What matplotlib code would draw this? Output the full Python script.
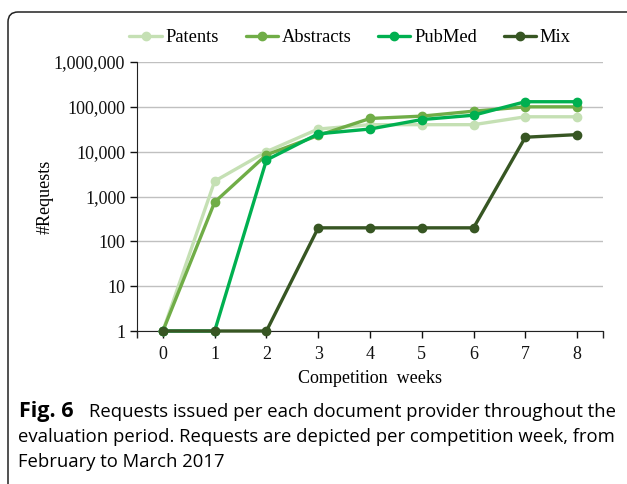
import matplotlib
matplotlib.use("Agg")
import matplotlib.pyplot as plt
from matplotlib.patches import FancyBboxPatch
from matplotlib.ticker import FixedLocator, FuncFormatter, NullLocator

weeks = [0, 1, 2, 3, 4, 5, 6, 7, 8]
patents = [1, 2200, 10000, 32000, 40000, 40000, 40000, 60000, 60000]
abstracts = [1, 750, 8500, 23000, 55000, 62000, 80000, 100000, 100000]
pubmed = [1, 1, 6500, 25000, 32000, 52000, 65000, 130000, 130000]
mix = [1, 1, 1, 200, 200, 200, 200, 21000, 24000]
series_names = ["Patents", "Abstracts", "PubMed", "Mix"]
yticks = [1, 10, 100, 1000, 10000, 100000, 1000000]

colors = ["#c5e0b4", "#70ad47", "#00b050", "#375623"]

W, H = 627, 484
fig = plt.figure(figsize=(W / 100, H / 100), dpi=100)

# border box (right and bottom edges fall outside the image, as in the reference)
box = FancyBboxPatch((0.08, -0.3), 7.0, (H - 12) / 100 + 0.3,
                     boxstyle="round,pad=0,rounding_size=0.1",
                     transform=fig.dpi_scale_trans, fill=False, edgecolor="#222222",
                     linewidth=1.1, clip_on=False)
fig.patches.append(box)

ax = fig.add_axes([137 / W, 1 - 331 / H, (603 - 137) / W, (331 - 62) / H])
ax.set_yscale("log")
ax.set_ylim(1, 1000000)
ax.set_xlim(-0.5, 8.5)

serif = "Liberation Serif"
for vals, name, c in zip([patents, abstracts, pubmed, mix], series_names, colors):
    ax.plot(weeks, vals, color=c, lw=2.4, marker="o", ms=6, label=name,
            solid_capstyle="round", zorder=3, clip_on=False)

ax.yaxis.set_major_locator(FixedLocator(yticks))
ax.yaxis.set_minor_locator(NullLocator())
ax.yaxis.set_major_formatter(FuncFormatter(lambda v, p: f"{int(round(v)):,}"))
ax.grid(axis="y", color="#c0c0c0", lw=1.0, zorder=0)
ax.set_axisbelow(True)

ax.xaxis.set_major_locator(FixedLocator(weeks))
ax.xaxis.set_minor_locator(FixedLocator([-0.5, 8.5]))
ax.tick_params(axis="x", which="both", direction="out", length=5, width=1, color="#222222")
ax.tick_params(axis="y", direction="out", length=5, width=1, color="#222222")
ax.tick_params(axis="both", labelsize=13, colors="#111111")
ax.tick_params(axis="x", pad=6)
for lbl in ax.get_xticklabels() + ax.get_yticklabels():
    lbl.set_fontfamily(serif)

for s in ["top", "right"]:
    ax.spines[s].set_visible(False)
ax.spines["left"].set_color("#222222")
ax.spines["bottom"].set_color("#222222")

ax.set_xlabel("Competition  weeks", fontfamily=serif, fontsize=13, labelpad=5)
ax.set_ylabel("#Requests", fontfamily=serif, fontsize=13, labelpad=0)

fig.legend(loc="center", bbox_to_anchor=(350 / W, 1 - 38 / H), ncol=4, frameon=False,
           prop={"family": serif, "size": 13.3}, handlelength=1.75, handletextpad=0.2,
           columnspacing=1.45)

# caption
cap_font = "Open Sans"
cap_size = 13.3
y1 = 1 - 412 / H
t = fig.text(19 / W, y1, "Fig. 6", fontfamily=cap_font, fontweight="bold",
             fontsize=15.5, va="center", ha="left")
fig.canvas.draw()
bb = t.get_window_extent()
fig.text(bb.x1 / W + 15 / W, y1, "Requests issued per each document provider throughout the",
         fontfamily=cap_font, fontsize=cap_size, va="center", ha="left")
fig.text(18 / W, 1 - 437 / H, "evaluation period. Requests are depicted per competition week, from",
         fontfamily=cap_font, fontsize=cap_size, va="center", ha="left")
fig.text(18 / W, 1 - 462 / H, "February to March 2017",
         fontfamily=cap_font, fontsize=cap_size, va="center", ha="left")

fig.savefig("out.png", dpi=100)
